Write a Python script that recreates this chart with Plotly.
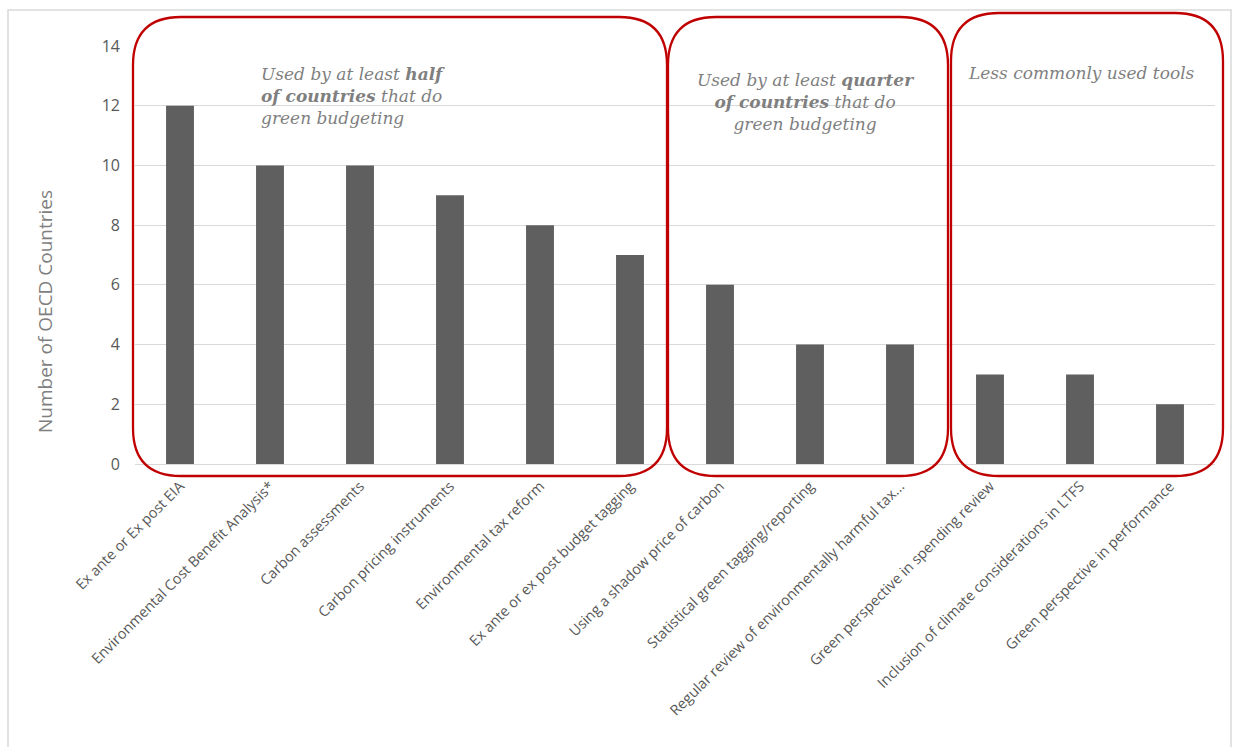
import plotly.graph_objects as go

categories = [
    "Ex ante or Ex post EIA",
    "Environmental Cost Benefit Analysis*",
    "Carbon assessments",
    "Carbon pricing instruments",
    "Environmental tax reform",
    "Ex ante or ex post budget tagging",
    "Using a shadow price of carbon",
    "Statistical green tagging/reporting",
    "Regular review of environmentally harmful tax...",
    "Green perspective in spending review",
    "Inclusion of climate considerations in LTFS",
    "Green perspective in performance",
]
values = [12, 10, 10, 9, 8, 7, 6, 4, 4, 3, 3, 2]
y_ticks = [0, 2, 4, 6, 8, 10, 12, 14]

W, H = 1233, 747
L, R, T, B = 135, 1215, 46, 464
PW, PH = R - L, B - T

def px(x):
    return (x - L) / PW

def py(y):
    return (B - y) / PH

def rounded_path(x0, y0, x1, y1, r):
    pts = []
    pts.append(f"M {px(x0 + r)},{py(y0)}")
    pts.append(f"L {px(x1 - r)},{py(y0)}")
    pts.append(f"Q {px(x1)},{py(y0)} {px(x1)},{py(y0 + r)}")
    pts.append(f"L {px(x1)},{py(y1 - r)}")
    pts.append(f"Q {px(x1)},{py(y1)} {px(x1 - r)},{py(y1)}")
    pts.append(f"L {px(x0 + r)},{py(y1)}")
    pts.append(f"Q {px(x0)},{py(y1)} {px(x0)},{py(y1 - r)}")
    pts.append(f"L {px(x0)},{py(y0 + r)}")
    pts.append(f"Q {px(x0)},{py(y0)} {px(x0 + r)},{py(y0)}")
    pts.append("Z")
    return " ".join(pts)

fig = go.Figure()
fig.add_trace(go.Bar(
    x=categories, y=values, marker=dict(color="#5f5f5f", line=dict(width=0)),
    width=0.31,
))

shapes = []
shapes.append(dict(type="rect", xref="paper", yref="paper",
                   x0=px(8), x1=px(1231), y0=py(10), y1=py(760),
                   line=dict(color="#d9d9d9", width=1.5), layer="below"))
red = "#c00000"
for (x0, y0, x1, y1) in [(133, 17, 667, 476), (668, 17, 948, 476), (951, 13, 1223, 476)]:
    shapes.append(dict(type="path", xref="paper", yref="paper",
                       path=rounded_path(x0, y0, x1, y1, 48),
                       line=dict(color=red, width=2.3), layer="above"))

serif = "DejaVu Serif"
txt_color = "#7f7f7f"
annotations = [
    dict(xref="paper", yref="paper", x=px(259), y=py(96), xanchor="left", yanchor="middle",
         align="left", showarrow=False,
         text="<i>Used by at least <b>half</b><br><b>of countries</b> that do<br>green budgeting</i>",
         font=dict(family=serif, size=17, color=txt_color)),
    dict(xref="paper", yref="paper", x=px(805), y=py(102), xanchor="center", yanchor="middle",
         align="center", showarrow=False,
         text="<i>Used by at least <b>quarter</b><br><b>of countries</b> that do<br>green budgeting</i>",
         font=dict(family=serif, size=17, color=txt_color)),
    dict(xref="paper", yref="paper", x=px(1081), y=py(73), xanchor="center", yanchor="middle",
         align="center", showarrow=False,
         text="<i>Less commonly used tools</i>",
         font=dict(family=serif, size=17, color=txt_color)),
    dict(xref="paper", yref="paper", x=px(45), y=py(312), xanchor="center", yanchor="middle",
         textangle=-90, showarrow=False, text="Number of OECD Countries",
         font=dict(family="Open Sans", size=19, color="#7f7f7f")),
]

fig.update_layout(
    width=W, height=H,
    margin=dict(l=L, r=W - R, t=T, b=H - B, pad=0),
    paper_bgcolor="white", plot_bgcolor="white",
    showlegend=False,
    shapes=shapes,
    annotations=annotations,
    font=dict(family="Open Sans", color="#595959"),
    xaxis=dict(tickangle=-45, tickfont=dict(size=14.5, color="#595959"),
               showgrid=False, showline=False, ticks="", ticklen=0,
               ticklabelstandoff=10, range=[-0.5, 11.5]),
    yaxis=dict(range=[0, 14], tickvals=y_ticks, tickfont=dict(size=16, color="#595959"),
               showgrid=True, gridcolor="#d9d9d9", gridwidth=1.2,
               zeroline=True, zerolinecolor="#d9d9d9", zerolinewidth=1.2,
               showline=False, ticks="", ticklabelstandoff=14),
)

fig.write_html("out.html")
